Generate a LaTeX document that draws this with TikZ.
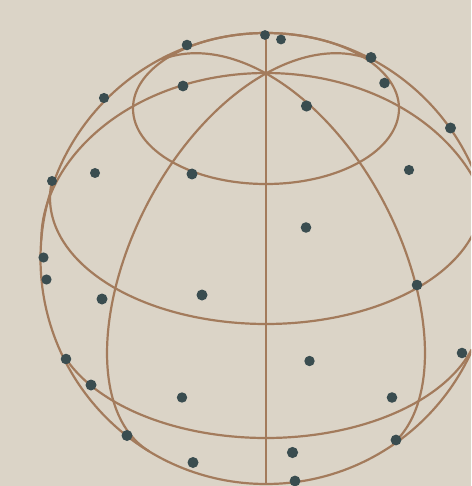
\documentclass[tikz,border=0pt]{standalone}
\definecolor{bgc}{HTML}{DBD4C7}
\definecolor{linec}{HTML}{A37B5C}
\definecolor{dotc}{HTML}{3A4D50}
\tikzset{wire/.style={draw=linec,line width=2.2pt},blob/.style={fill=dotc}}
\begin{document}
\begin{tikzpicture}[x=1pt,y=-1pt]
\useasboundingbox (0,0) rectangle (471,486);
\fill[bgc] (0,0) rectangle (471,486);
\begin{scope}
\clip (0,0) rectangle (471,486);
\draw[wire] (266,258.5) circle[radius=225.5pt];
\draw[wire] (266,108.5) ellipse[x radius=133pt,y radius=75.5pt];
% middle latitude: back half and front half
\draw[wire] plot[domain=0:180,samples=90,smooth] ({266+(222+2.7*(cos(\x)*cos(\x))^4)*cos(\x)},{240-167*sin(\x)});
\draw[wire] plot[domain=172:368,samples=90,smooth] ({266+216*cos(\x)},{198-126*sin(\x)});
% lower latitude
\draw[wire] plot[domain=201.5:343,samples=80,smooth] ({266+215*cos(\x)},{313-125*sin(\x)});
\draw[wire] (266,33) -- (266,484);
\draw[wire] plot[domain=6:180,samples=90,smooth] ({266+225.5*cos(\x)*0.518-(130.5+6*cos(\x))*sin(\x)*0.855},{258.5-225.5*cos(\x)*0.855-(130.5+6*cos(\x))*sin(\x)*0.518});
\draw[wire] plot[domain=6:172,samples=90,smooth] ({266-225.5*cos(\x)*0.518+(130.5+6*cos(\x))*sin(\x)*0.855},{258.5-225.5*cos(\x)*0.855-(130.5+6*cos(\x))*sin(\x)*0.518});
\foreach \px/\py/\r in {187/45/5.3,265/35/4.9,281/39.5/4.9,371/57.5/5.5,104/98/5.1,183/86/5.4,384.5/83/5.3,306.5/106/5.6,450.5/128/5.5,52/181/5,95/173/5,192/174/5.5,409/170/5.1,306/227.5/5.3,43.5/257.5/5.1,46.5/279.5/5.1,102/299/5.5,202/295/5.5,417/285/5.3,66/359/5.3,91/385/5.5,182/397.5/5.2,309.5/361/5.2,392/397.5/5.3,462/353/5.3,127/435.5/5.5,193/462.5/5.5,292.5/452.5/5.6,396/440/5.4,295/481/5.4}
  \fill[blob] (\px,\py) circle[radius=\r pt];
\end{scope}
\end{tikzpicture}
\end{document}
